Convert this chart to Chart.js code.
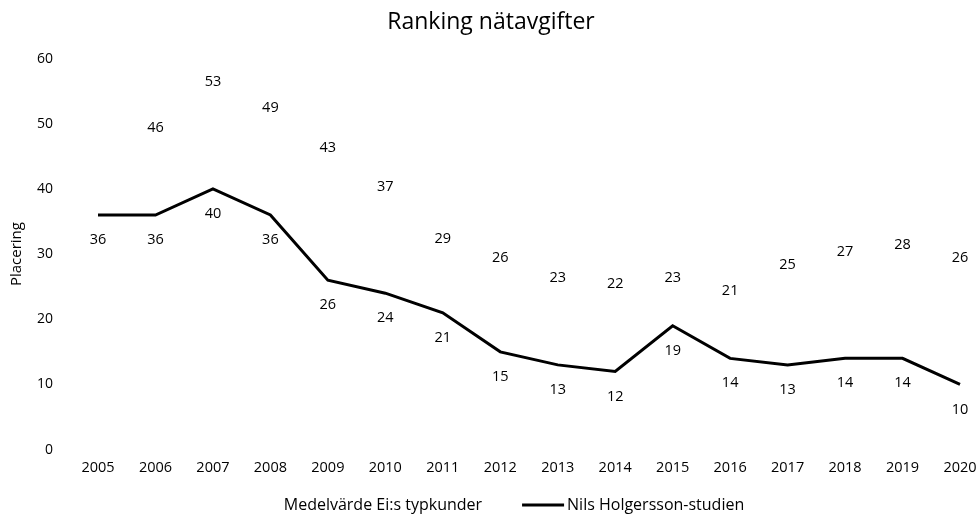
<!DOCTYPE html>
<html lang="sv">
<head>
  <meta charset="UTF-8">
  <title>Ranking nätavgifter</title>
  <script src="https://cdn.jsdelivr.net/npm/chart.js"></script>
  <style>
    body { margin: 0; background: #fff; }
    #wrap { width: 978px; height: 517px; }
  </style>
</head>
<body>
  <div id="wrap"><canvas id="rankChart"></canvas></div>
  <script>
    const years = ['2005', '2006', '2007', '2008', '2009', '2010', '2011', '2012',
                   '2013', '2014', '2015', '2016', '2017', '2018', '2019', '2020'];
    const eiAverage = [null, 46, 53, 49, 43, 37, 29, 26, 23, 22, 23, 21, 25, 27, 28, 26];
    const nilsHolgersson = [36, 36, 40, 36, 26, 24, 21, 15, 13, 12, 19, 14, 13, 14, 14, 10];
    const yTicks = [0, 10, 20, 30, 40, 50, 60];

    const font = "'Open Sans', sans-serif";

    // simple value labels, drawn above or below each point
    const valueLabels = {
      id: 'valueLabels',
      afterDatasetsDraw(chart) {
        const ctx = chart.ctx;
        ctx.save();
        ctx.font = '14.5px ' + font;
        ctx.fillStyle = '#000';
        ctx.textAlign = 'center';
        ctx.textBaseline = 'middle';
        chart.data.datasets.forEach((ds, i) => {
          const meta = chart.getDatasetMeta(i);
          meta.data.forEach((pt, j) => {
            const v = ds.data[j];
            if (v == null) return;
            ctx.fillText(String(v), pt.x, pt.y + ds.labelOffset);
          });
        });
        ctx.restore();
      }
    };

    // legend row under the axis: first series has no marker, second a black line
    const bottomLegend = {
      id: 'bottomLegend',
      afterDraw(chart) {
        const ctx = chart.ctx;
        const ds = chart.data.datasets;
        const y = chart.height - 12;
        ctx.save();
        ctx.font = '16px ' + font;
        ctx.fillStyle = '#000';
        ctx.textBaseline = 'middle';
        const wA = ctx.measureText(ds[0].label).width;
        const wB = ctx.measureText(ds[1].label).width;
        const lead = 50, gap = 40, mark = 42, markGap = 3;
        const total = lead + wA + gap + mark + markGap + wB;
        let x = chart.width / 2 - total / 2 + lead;
        ctx.fillText(ds[0].label, x, y);
        x += wA + gap;
        ctx.strokeStyle = ds[1].borderColor;
        ctx.lineWidth = 3;
        ctx.beginPath();
        ctx.moveTo(x, y);
        ctx.lineTo(x + mark, y);
        ctx.stroke();
        x += mark + markGap;
        ctx.fillText(ds[1].label, x, y);
        ctx.restore();
      }
    };

    new Chart(document.getElementById('rankChart'), {
      type: 'line',
      data: {
        labels: years,
        datasets: [{
          label: 'Medelvärde Ei:s typkunder',
          data: eiAverage,
          showLine: false,
          pointRadius: 0,
          borderColor: 'transparent',
          backgroundColor: 'transparent',
          labelOffset: -22
        }, {
          label: 'Nils Holgersson-studien',
          data: nilsHolgersson,
          borderColor: '#000',
          backgroundColor: '#000',
          borderWidth: 3,
          pointRadius: 0,
          tension: 0,
          labelOffset: 25
        }]
      },
      options: {
        responsive: true,
        maintainAspectRatio: false,
        animation: false,
        layout: { padding: { left: 4, right: 0, top: 9, bottom: 38 } },
        plugins: {
          title: {
            display: true,
            text: 'Ranking nätavgifter',
            color: '#000',
            font: { family: font, size: 23, weight: 'normal' },
            padding: { top: 0, bottom: 22 }
          },
          legend: { display: false },
          tooltip: { enabled: false }
        },
        scales: {
          x: {
            offset: false,
            grid: { display: false },
            border: { display: false },
            afterFit: (scale) => { scale.paddingRight = 18; },
            ticks: { color: '#000', font: { family: font, size: 14.5 }, maxRotation: 0, padding: 2 }
          },
          y: {
            min: 0,
            max: 60,
            afterBuildTicks: (scale) => { scale.ticks = yTicks.map(v => ({ value: v })); },
            afterFit: (scale) => { scale.width = 94; },
            grid: { display: false },
            border: { display: false },
            title: {
              display: true,
              text: 'Placering',
              color: '#000',
              font: { family: font, size: 15 }
            },
            ticks: { color: '#000', font: { family: font, size: 14 }, padding: 37 }
          }
        }
      },
      plugins: [valueLabels, bottomLegend]
    });
  </script>
</body>
</html>
